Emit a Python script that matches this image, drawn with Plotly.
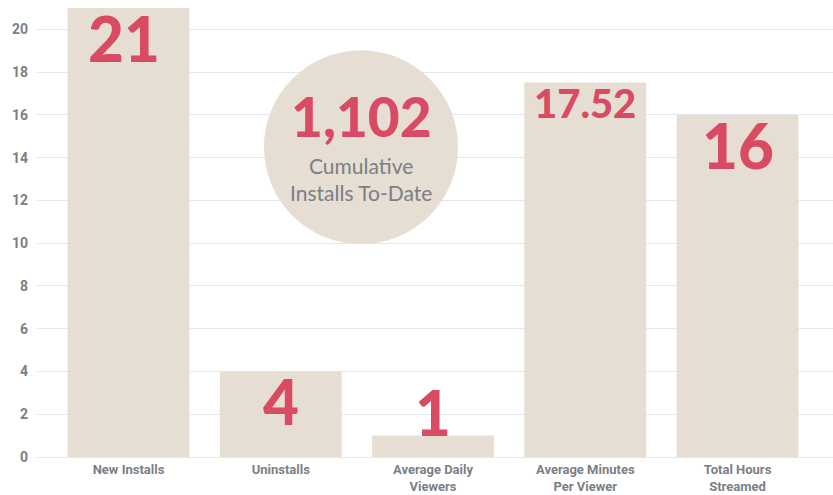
import plotly.graph_objects as go

categories = ["New Installs", "Uninstalls", "Average Daily<br>Viewers",
              "Average Minutes<br>Per Viewer", "Total Hours<br>Streamed"]
values = [21, 4, 1, 17.52, 16]
value_labels = ["21", "4", "1", "17.52", "16"]
tick_vals = [0, 2, 4, 6, 8, 10, 12, 14, 16, 18, 20]
cumulative_installs = "1,102"
cumulative_caption = "Cumulative<br>Installs To-Date"

BAR = "#e6ddd3"
RED = "#d94a63"
GRAY = "#7b7f86"
GRID = "#e2e8f0"

fig = go.Figure()
fig.add_trace(go.Bar(x=list(range(len(categories))), y=values,
                     marker=dict(color=BAR, line=dict(width=0)),
                     hoverinfo="skip"))

# value labels
for i, (v, t) in enumerate(zip(values, value_labels)):
    small = "." in t
    inside = v > 3
    size = 40 if small else 62
    shift = (-21 if small else -30) if inside else 24
    fig.add_annotation(x=i, y=v, text=t, showarrow=False,
                       xanchor="center", yanchor="middle", yshift=shift,
                       xshift=-5 if i == 0 else 0,
                       font=dict(family="Lato", size=size, color=RED, weight=900))

# circle callout
cx, cy, rx, ry = 1.527, 14.49, 0.637, 4.53
fig.add_shape(type="circle", xref="x", yref="y",
              x0=cx - rx, x1=cx + rx, y0=cy - ry, y1=cy + ry,
              fillcolor=BAR, line=dict(width=0), layer="above")
fig.add_annotation(x=cx, y=cy, text=cumulative_installs, showarrow=False,
                   yanchor="middle", yshift=31,
                   font=dict(family="Lato", size=55, color=RED, weight=900))
fig.add_annotation(x=cx, y=cy, text=cumulative_caption, showarrow=False,
                   yanchor="middle", yshift=-32, align="center",
                   font=dict(family="Lato", size=21, color=GRAY))

fig.update_layout(
    width=833, height=495,
    margin=dict(l=37, r=0, t=8, b=38),
    paper_bgcolor="white", plot_bgcolor="white",
    showlegend=False, bargap=0.2,
    xaxis=dict(range=[-0.601, 4.627], tickvals=list(range(len(categories))),
               ticktext=categories, showgrid=False, zeroline=False,
               tickfont=dict(family="Roboto", size=13, color=GRAY, weight="bold"),
               ticks="", ticklabelstandoff=3, fixedrange=True, automargin=False),
    yaxis=dict(range=[0, 21], tickvals=tick_vals, showgrid=True, gridcolor=GRID,
               gridwidth=1, zeroline=True, zerolinecolor=GRID, zerolinewidth=1,
               tickfont=dict(family="Roboto", size=14, color=GRAY, weight="bold"),
               ticks="", ticklabelstandoff=8, automargin=False),
)
fig.write_html("out.html", config={"displayModeBar": False},
               post_script="document.body.style.margin='0';document.body.style.overflow='hidden';")
